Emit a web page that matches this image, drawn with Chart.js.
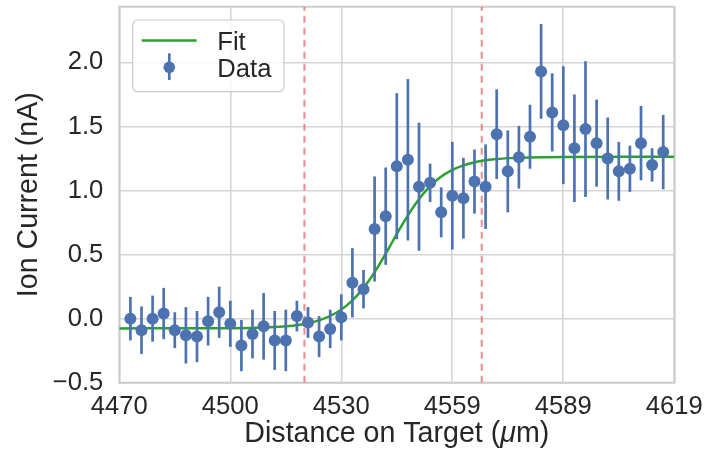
<!DOCTYPE html>
<html>
<head>
<meta charset="utf-8">
<script src="https://cdn.jsdelivr.net/npm/chart.js@4"></script>
<style>
html,body{margin:0;padding:0;background:#fff;}
canvas{display:block;}
</style>
</head>
<body>
<canvas id="c" width="710" height="456"></canvas>
<script>
const xValues = [4472.98, 4475.96, 4478.94, 4481.92, 4484.90, 4487.88, 4490.86, 4493.84, 4496.82, 4499.80,
  4502.78, 4505.76, 4508.74, 4511.72, 4514.70, 4517.68, 4520.66, 4523.64, 4526.62, 4529.60,
  4532.58, 4535.56, 4538.54, 4541.52, 4544.50, 4547.48, 4550.46, 4553.44, 4556.42, 4559.40,
  4562.38, 4565.36, 4568.34, 4571.32, 4574.30, 4577.28, 4580.26, 4583.24, 4586.22, 4589.20,
  4592.18, 4595.16, 4598.14, 4601.12, 4604.10, 4607.08, 4610.06, 4613.04, 4616.02];
const yValues = [0.00, -0.09, 0.00, 0.04, -0.09, -0.13, -0.14, -0.02, 0.05, -0.04,
  -0.21, -0.12, -0.06, -0.17, -0.17, 0.02, -0.03, -0.14, -0.08, 0.01,
  0.28, 0.23, 0.70, 0.80, 1.19, 1.24, 1.03, 1.06, 0.83, 0.96,
  0.94, 1.07, 1.03, 1.44, 1.15, 1.26, 1.42, 1.93, 1.61, 1.51,
  1.33, 1.48, 1.37, 1.25, 1.15, 1.17, 1.37, 1.20, 1.30];
const yErrors = [0.17, 0.185, 0.18, 0.20, 0.14, 0.22, 0.20, 0.19, 0.20, 0.18,
  0.20, 0.19, 0.26, 0.23, 0.24, 0.12, 0.12, 0.16, 0.15, 0.18,
  0.27, 0.15, 0.41, 0.38, 0.57, 0.63, 0.50, 0.15, 0.195, 0.42,
  0.315, 0.25, 0.33, 0.35, 0.32, 0.245, 0.25, 0.37, 0.305, 0.46,
  0.42, 0.53, 0.34, 0.32, 0.23, 0.18, 0.29, 0.13, 0.29];
const fitX = [4470, 4490, 4500, 4505, 4510, 4515, 4520, 4524, 4528, 4531, 4534, 4537, 4540, 4542, 4544,
  4546, 4548, 4550, 4553, 4556, 4559, 4562, 4566, 4570, 4575, 4580, 4590, 4605, 4619];
const fitY = [-0.076, -0.0756, -0.0743, -0.0723, -0.068, -0.0588, -0.0393, -0.0096, 0.0419, 0.1018, 0.1857,
  0.2963, 0.432, 0.5318, 0.6347, 0.7355, 0.830, 0.915, 1.0203, 1.099, 1.1548, 1.1926, 1.224, 1.2417,
  1.253, 1.2584, 1.262, 1.263, 1.263];
const markerX = [4519.7, 4567.3];
const xTickValues = [4470, 4499.8, 4529.6, 4559.4, 4589.2, 4619];
const xTickLabels = ['4470', '4500', '4530', '4559', '4589', '4619'];
const yTickValues = [-0.5, 0.0, 0.5, 1.0, 1.5, 2.0];
const yTickLabels = ['\u22120.5', '0.0', '0.5', '1.0', '1.5', '2.0'];
const xRange = [4470, 4619];
const yRange = [-0.5, 2.435];
const xTitleParts = ['Distance on Target (', '\u03bc', 'm)'];
const yTitle = 'Ion Current (nA)';

const BLUE = '#4c72b0';
const GREEN = '#2ca02c';
const RED = 'rgba(228,96,100,0.72)';
const TEXT = '#262626';
const FONT = "'Liberation Sans', Arial, sans-serif";

const dataPoints = xValues.map((x, i) => ({x: x, y: yValues[i]}));
const fitPoints = fitX.map((x, i) => ({x: x, y: fitY[i]}));

const frameAndErrorBars = {
  id: 'frameAndErrorBars',
  beforeDatasetsDraw(chart) {
    const {ctx, chartArea: a} = chart;
    ctx.save();
    ctx.strokeStyle = '#cccccc';
    ctx.lineWidth = 2;
    ctx.strokeRect(a.left, a.top, a.right - a.left, a.bottom - a.top);
    ctx.restore();
  },
  beforeDatasetDraw(chart, args) {
    if (args.index !== 0) return;
    const {ctx} = chart;
    const xs = chart.scales.x, ys = chart.scales.y;
    ctx.save();
    ctx.strokeStyle = BLUE;
    ctx.lineWidth = 2.7;
    for (let i = 0; i < xValues.length; i++) {
      const px = xs.getPixelForValue(xValues[i]);
      ctx.beginPath();
      ctx.moveTo(px, ys.getPixelForValue(yValues[i] - yErrors[i]));
      ctx.lineTo(px, ys.getPixelForValue(yValues[i] + yErrors[i]));
      ctx.stroke();
    }
    ctx.restore();
  },
  afterDraw(chart) {
    const {ctx, chartArea: a} = chart;
    const ds = chart.data.datasets;
    ctx.save();
    // x-axis title with italic mu
    const normal = '28.6px ' + FONT;
    const italic = 'italic 28.6px ' + FONT;
    ctx.font = normal;
    const w0 = ctx.measureText(xTitleParts[0]).width;
    const w2 = ctx.measureText(xTitleParts[2]).width;
    ctx.font = italic;
    const w1 = ctx.measureText(xTitleParts[1]).width;
    let tx = (a.left + a.right) / 2 - (w0 + w1 + w2) / 2;
    const ty = 442;
    ctx.fillStyle = TEXT;
    ctx.textBaseline = 'alphabetic';
    ctx.textAlign = 'left';
    ctx.font = normal; ctx.fillText(xTitleParts[0], tx, ty); tx += w0;
    ctx.font = italic; ctx.fillText(xTitleParts[1], tx, ty); tx += w1;
    ctx.font = normal; ctx.fillText(xTitleParts[2], tx, ty);
    // legend
    const bx = 132.7, by = 20, bw = 151.3, bh = 71.7, r = 5;
    ctx.beginPath();
    ctx.moveTo(bx + r, by);
    ctx.arcTo(bx + bw, by, bx + bw, by + bh, r);
    ctx.arcTo(bx + bw, by + bh, bx, by + bh, r);
    ctx.arcTo(bx, by + bh, bx, by, r);
    ctx.arcTo(bx, by, bx + bw, by, r);
    ctx.closePath();
    ctx.fillStyle = 'rgba(255,255,255,0.8)';
    ctx.fill();
    ctx.strokeStyle = '#cccccc';
    ctx.lineWidth = 1.2;
    ctx.stroke();
    ctx.strokeStyle = GREEN;
    ctx.lineWidth = 2.5;
    ctx.beginPath();
    ctx.moveTo(141.7, 40.5);
    ctx.lineTo(196.7, 40.5);
    ctx.stroke();
    ctx.strokeStyle = BLUE;
    ctx.lineWidth = 2.7;
    ctx.beginPath();
    ctx.moveTo(169.3, 53.3);
    ctx.lineTo(169.3, 80);
    ctx.stroke();
    ctx.fillStyle = BLUE;
    ctx.beginPath();
    ctx.arc(169.3, 67.3, 5.8, 0, Math.PI * 2);
    ctx.fill();
    ctx.fillStyle = TEXT;
    ctx.font = '25.6px ' + FONT;
    ctx.fillText(ds[1].label, 217.3, 50);
    ctx.fillText(ds[0].label, 217.3, 76.7);
    ctx.restore();
  }
};

new Chart(document.getElementById('c'), {
  data: {
    datasets: [
      {
        type: 'scatter',
        label: 'Data',
        data: dataPoints,
        pointRadius: 6,
        pointHoverRadius: 6,
        pointBackgroundColor: BLUE,
        pointBorderWidth: 0,
        showLine: false,
        order: 0
      },
      {
        type: 'line',
        label: 'Fit',
        data: fitPoints,
        borderColor: GREEN,
        borderWidth: 2.5,
        pointRadius: 0,
        cubicInterpolationMode: 'monotone',
        fill: false,
        order: 1
      },
      {
        type: 'line',
        label: 'marker1',
        data: [{x: markerX[0], y: yRange[0]}, {x: markerX[0], y: yRange[1]}],
        borderColor: RED,
        borderWidth: 2,
        borderDash: [7, 5],
        pointRadius: 0,
        order: 2
      },
      {
        type: 'line',
        label: 'marker2',
        data: [{x: markerX[1], y: yRange[0]}, {x: markerX[1], y: yRange[1]}],
        borderColor: RED,
        borderWidth: 2,
        borderDash: [7, 5],
        pointRadius: 0,
        order: 2
      }
    ]
  },
  options: {
    responsive: false,
    animation: false,
    devicePixelRatio: 1,
    layout: {padding: {left: 0, right: 35.7, top: 6.7, bottom: 0}},
    plugins: {legend: {display: false}, tooltip: {enabled: false}},
    scales: {
      x: {
        type: 'linear',
        min: xRange[0],
        max: xRange[1],
        afterBuildTicks(scale) { scale.ticks = xTickValues.map(v => ({value: v})); },
        afterFit(scale) { scale.height = 73.3; scale.paddingLeft = 0; scale.paddingRight = 0; },
        ticks: {
          callback: (v, i) => xTickLabels[i],
          font: {family: FONT, size: 25.6},
          color: TEXT,
          padding: 9,
          maxRotation: 0,
          autoSkip: false
        },
        grid: {color: '#d5d5d5', lineWidth: 1.6, drawTicks: false},
        border: {display: false},
        title: {display: false}
      },
      y: {
        type: 'linear',
        min: yRange[0],
        max: yRange[1],
        afterBuildTicks(scale) { scale.ticks = yTickValues.map(v => ({value: v})); },
        afterFit(scale) { scale.width = 119.3; scale.paddingTop = 0; scale.paddingBottom = 0; },
        ticks: {
          callback: (v, i) => yTickLabels[i],
          font: {family: FONT, size: 25.6},
          color: TEXT,
          padding: 16,
          autoSkip: false
        },
        grid: {color: '#d5d5d5', lineWidth: 1.6, drawTicks: false},
        border: {display: false},
        title: {
          display: true,
          text: yTitle,
          font: {family: FONT, size: 28.6, lineHeight: 1},
          color: TEXT,
          padding: {top: 15, bottom: 0}
        }
      }
    }
  },
  plugins: [frameAndErrorBars]
});
</script>
</body>
</html>
